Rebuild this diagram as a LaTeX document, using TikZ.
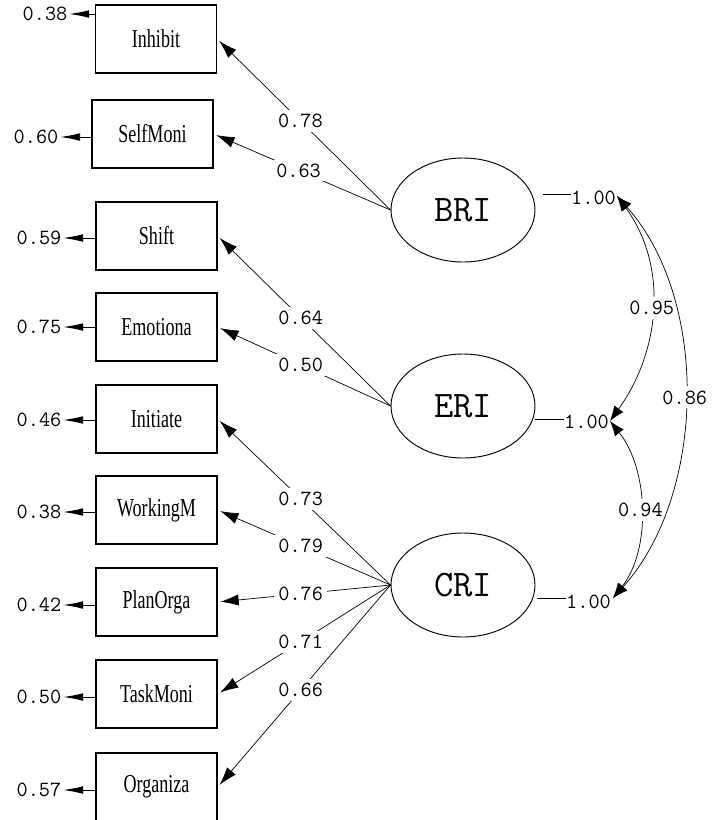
\documentclass[tikz,border=0pt]{standalone}
\usepackage{fontspec}
\newfontfamily\indfont[FakeStretch=0.7]{Liberation Serif}
\usepackage{tikz}
\usetikzlibrary{arrows.meta,shapes.geometric}
\newcommand{\numfont}{\ttfamily\fontsize{18.5}{20}\selectfont}
\tikzset{lbl/.style={fill=white,inner sep=1.2mm,font=\numfont},
         loadtip/.style={-{Latex[length=5.5mm,width=3.4mm]}},
         errtip/.style={-{Latex[length=6mm,width=2.3mm]}},
         corrtip/.style={{Latex[length=4.5mm,width=3.4mm]}-{Latex[length=4.5mm,width=3.4mm]}}}

\begin{document}
\begin{tikzpicture}[x=0.3mm,y=-0.3mm]
\useasboundingbox (0,0) rectangle (711,820);
\begin{scope}[every node/.style={draw,line width=1.2pt,minimum width=36.3mm,minimum height=20.4mm,inner sep=0pt,font={\indfont\fontsize{22}{24}\selectfont}}]
    \node (inh) at (156,39) {Inhibit};
    \node (self) at (152.5,134) {SelfMoni};
    \node (shift) at (156.5,236) {Shift};
    \node (emo) at (156.5,327) {Emotiona};
    \node (init) at (156.5,419) {Initiate};
    \node (work) at (156.5,510) {WorkingM};
    \node (plan) at (156.5,602) {PlanOrga};
    \node (task) at (156.5,694) {TaskMoni};
    \node (org) at (156.5,787) {Organiza};
\end{scope}
\begin{scope}[every node/.style={draw,ellipse,line width=0.8pt,minimum width=43.2mm,minimum height=31.2mm,inner sep=0pt,font={\ttfamily\fontsize{32}{34}\selectfont}}]
    \node (bri) at (463,210) {BRI};
    \node (eri) at (463,406) {ERI};
    \node (cri) at (463,585) {CRI};
\end{scope}
\begin{scope}[every node/.style={inner sep=0pt,font=\numfont}]
    \node (e1) at (45,14) {0.38};
    \node (e2) at (36,137) {0.60};
    \node (e3) at (39,238) {0.59};
    \node (e4) at (39,327) {0.75};
    \node (e5) at (39,420) {0.46};
    \node (e6) at (39,512) {0.38};
    \node (e7) at (39,605) {0.42};
    \node (e8) at (39,697) {0.50};
    \node (e9) at (39,790) {0.57};
    % variances of the factors
    \node[anchor=west] (vb) at (571,198) {1.00};
    \node[anchor=west] (ve) at (564,422) {1.00};
    \node[anchor=west] (vc) at (566,602) {1.00};
\end{scope}
\coordinate (lb) at (543,194);
\coordinate (le) at (535,419);
\coordinate (lc) at (537,598);
\coordinate (tb) at (617,196);
\coordinate (te) at (610,421);
\coordinate (tc) at (613,598);
\begin{scope}[every edge/.style={draw=black,line width=0.6pt,shorten >=0.8mm}]
    \path [loadtip] (bri.west) edge node[lbl,pos=0.52] {0.78} (inh.east);
    \path [loadtip] (bri.west) edge node[lbl,pos=0.52] {0.63} (self.east);
    \path [loadtip] (eri.west) edge node[lbl,pos=0.52] {0.64} (shift.east);
    \path [loadtip] (eri.west) edge node[lbl,pos=0.52] {0.50} (emo.east);
    \path [loadtip] (cri.west) edge node[lbl,pos=0.52] {0.73} (init.east);
    \path [loadtip] (cri.west) edge node[lbl,pos=0.52] {0.79} (work.east);
    \path [loadtip] (cri.west) edge node[lbl,pos=0.52] {0.76} (plan.east);
    \path [loadtip] (cri.west) edge node[lbl,pos=0.52] {0.71} (task.east);
    \path [loadtip] (cri.west) edge node[lbl,pos=0.52] {0.66} (org.east);
\end{scope}
% error variances
\begin{scope}[every edge/.style={draw=black,line width=0.8pt,shorten >=0.5mm}]
    \path [errtip] (inh.west |- e1) edge (e1.east);
    \path [errtip] (self.west |- e2) edge (e2.east);
    \path [errtip] (shift.west |- e3) edge (e3.east);
    \path [errtip] (emo.west |- e4) edge (e4.east);
    \path [errtip] (init.west |- e5) edge (e5.east);
    \path [errtip] (work.west |- e6) edge (e6.east);
    \path [errtip] (plan.west |- e7) edge (e7.east);
    \path [errtip] (task.west |- e8) edge (e8.east);
    \path [errtip] (org.west |- e9) edge (e9.east);
\end{scope}
\begin{scope}[line width=0.6pt]
    \draw (lb) -- (lb -| vb.west);
    \draw (le) -- (le -| ve.west);
    \draw (lc) -- (lc -| vc.west);
\end{scope}
% correlations
\begin{scope}[line width=0.6pt]
    \draw [corrtip] (tb) .. controls (668,265) and (661,350) .. node[lbl,pos=0.5] {0.95} (te);
    \draw [corrtip] (te) .. controls (649,470) and (651,550) .. node[lbl,pos=0.5] {0.94} (tc);
    \draw [corrtip] (tb) .. controls (710,300) and (706,495) .. node[lbl,pos=0.5] {0.86} (tc);
\end{scope}
\end{tikzpicture}
\end{document}
